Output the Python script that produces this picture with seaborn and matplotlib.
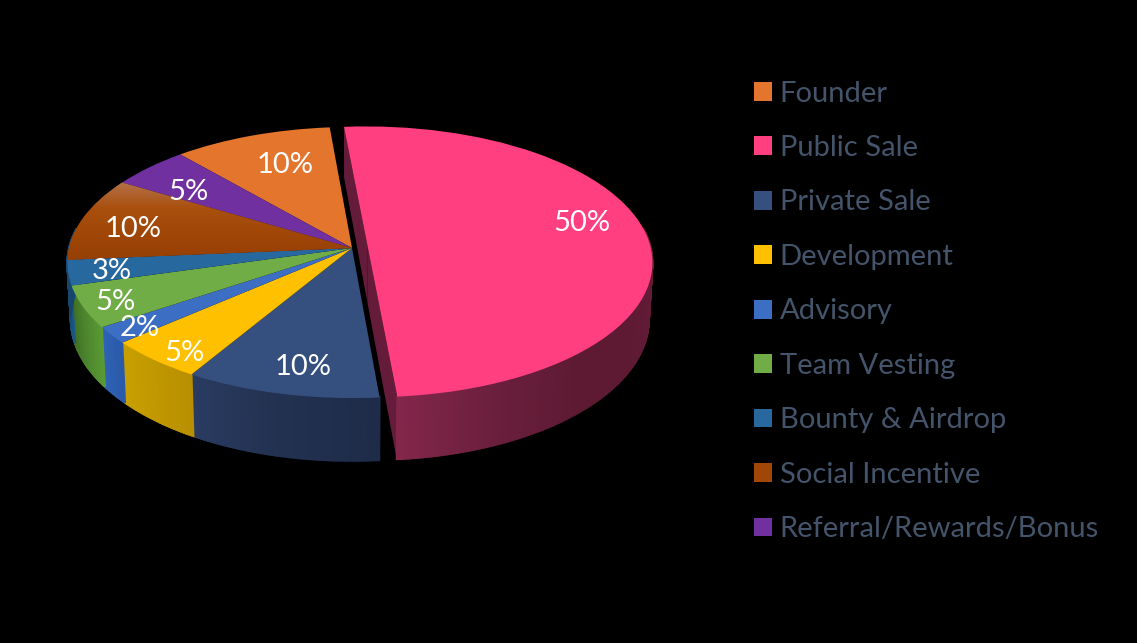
import matplotlib
matplotlib.use("Agg")
import matplotlib.pyplot as plt
import matplotlib.transforms as mtransforms
import numpy as np
import seaborn as sns

# chart data
labels = ["Founder", "Public Sale", "Private Sale", "Development", "Advisory",
          "Team Vesting", "Bounty & Airdrop", "Social Incentive",
          "Referral/Rewards/Bonus"]
shares = [10, 50, 10, 5, 2, 5, 3, 10, 5]
top_colors = ["#E4752D", "#FF3F7F", "#35507F", "#FFC000", "#3C6EC4",
              "#70AD47", "#27689F", "#A04606", "#7030A0"]

# side wall shades, clockwise along each slice
wall_colors = [
    ["#8a4a1c", "#8a4a1c"],
    ["#6a1c3a", "#641b37", "#5e1a33", "#5e1a33", "#6a1f3c", "#82264a"],
    ["#1e2c4a", "#22314f", "#2a3b62"],
    ["#b88f00", "#c9a000"],
    ["#2a5aa8", "#2f62b5"],
    ["#5a9a34", "#3f7026"],
    ["#1d5a8a", "#174a72"],
    ["#17466c", "#17466c"],
    ["#4d2170", "#4d2170"],
]
social_gradient = ["#b4744e", "#a9500f", "#a04606", "#964006"]

# label centres in image pixels
label_xy = [(285, 165), (582, 223), (303, 367), (184, 353), (140, 328),
            (115, 302), (112, 271), (133, 229), (188, 192)]

# view of the tilted pie, in image pixels
APEX_X, APEX_Y = 352, 248
RADIUS_X, RADIUS_Y = 283, 134
PERSPECTIVE = 0.107
DEPTH = 56
START_ANGLE = 131.0
PUBLIC_EXPLODE = 0.056


def project(u, v, z=0.0):
    """Unit pie coordinates (z = 1 is the underside) to image pixels."""
    w = 1 + PERSPECTIVE * v
    x = APEX_X + RADIUS_X * u * (1 - 0.012 * z) / w
    y = APEX_Y + (DEPTH * z - RADIUS_Y * v) / w
    return x, y


class TiltView(mtransforms.Transform):
    input_dims = 2
    output_dims = 2
    is_separable = False
    has_inverse = False

    def transform_non_affine(self, values):
        values = np.asarray(values)
        x, y = project(values[:, 0], values[:, 1])
        return np.column_stack([x, y])


sns.set_theme(style="dark", rc={"figure.facecolor": "black",
                                "axes.facecolor": "black",
                                "savefig.facecolor": "black"})
plt.rcParams["font.family"] = ["Lato", "DejaVu Sans"]

fig = plt.figure(figsize=(11.37, 6.43), dpi=100)
ax = fig.add_axes([0, 0, 1, 1])

explode = [PUBLIC_EXPLODE if name == "Public Sale" else 0 for name in labels]
wedges, _, autotexts = ax.pie(
    shares,
    colors=top_colors,
    explode=explode,
    startangle=START_ANGLE,
    counterclock=False,
    autopct="%.0f%%",
    labeldistance=None,
    wedgeprops={"linewidth": 0, "zorder": 3},
    textprops={"color": "white", "fontsize": 21, "zorder": 5},
)
tilt = TiltView()
for wedge in wedges:
    wedge.set_transform(tilt + ax.transData)
for text, xy in zip(autotexts, label_xy):
    text.set_position(xy)
    text.set_ha("center")
    text.set_va("center")

# side walls, strip by strip along the rim
edges = START_ANGLE - np.cumsum([0] + shares) * 3.6
for i in range(len(shares)):
    angles = np.radians(np.linspace(edges[i], edges[i + 1], int(shares[i] * 6) + 2))
    off_u = explode[i] * np.cos(np.radians((edges[i] + edges[i + 1]) / 2))
    off_v = explode[i] * np.sin(np.radians((edges[i] + edges[i + 1]) / 2))
    u = np.cos(angles) + off_u
    v = np.sin(angles) + off_v
    keep = np.where(v < 0.15)[0]
    if len(keep) < 2:
        continue
    shades = sns.blend_palette(wall_colors[i], n_colors=len(keep) - 1)
    for shade, a, b in zip(shades, keep[:-1], keep[1:]):
        x_top, y_top = project(u[[a, b]], v[[a, b]])
        x_low, y_low = project(u[[b, a]], v[[b, a]], 1.0)
        ax.fill(np.r_[x_top, x_low], np.r_[y_top, y_low], color=shade,
                linewidth=1.4, zorder=1)

    # the exploded slice also shows its cut faces
    if explode[i] > 0:
        for end in (angles[0], angles[-1]):
            cut_u = np.array([np.cos(end) + off_u, off_u])
            cut_v = np.array([np.sin(end) + off_v, off_v])
            x_top, y_top = project(cut_u, cut_v)
            x_low, y_low = project(cut_u[::-1], cut_v[::-1], 1.0)
            ax.fill(np.r_[x_top, x_low], np.r_[y_top, y_low], color="#651c3a",
                    linewidth=0, zorder=0.5)

# Social Incentive fades towards the rim
gradient = ax.imshow(
    np.linspace(0, 1, 80)[:, None],
    cmap=sns.blend_palette(social_gradient, as_cmap=True),
    extent=(60, 360, 262, 180),
    aspect="auto",
    zorder=3.5,
)
gradient.set_clip_path(wedges[labels.index("Social Incentive")])

ax.set_aspect("auto")
ax.set_xlim(0, 1137)
ax.set_ylim(643, 0)
ax.axis("off")

legend = ax.legend(
    wedges,
    labels,
    loc="upper left",
    bbox_to_anchor=(754, 80.5),
    bbox_transform=ax.transData,
    frameon=False,
    fontsize=21,
    handlelength=0.617,
    handleheight=0.617,
    handletextpad=0.27,
    labelspacing=0.976,
    borderpad=0,
    borderaxespad=0,
)
for text in legend.get_texts():
    text.set_color("#44546A")

fig.savefig("out.png", dpi=100, facecolor="black")
